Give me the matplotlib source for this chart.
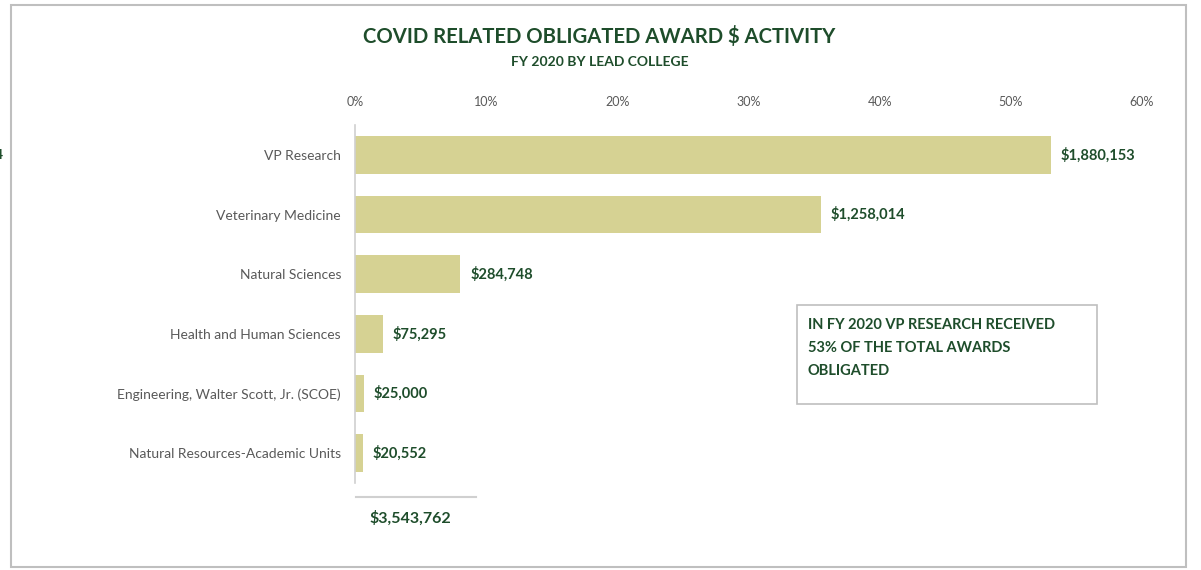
import matplotlib.pyplot as plt
from matplotlib.patches import Rectangle
from matplotlib.lines import Line2D
from matplotlib.ticker import PercentFormatter

colleges = ['VP Research', 'Veterinary Medicine', 'Natural Sciences',
            'Health and Human Sciences', 'Engineering, Walter Scott, Jr. (SCOE)',
            'Natural Resources-Academic Units']
awards = [1880153, 1258014, 284748, 75295, 25000, 20552]
total = sum(awards)
share = [a / total for a in awards]

green = '#1E4D2B'
bar_col = '#D6D293'
gray_txt = '#595959'
line_col = '#D0D0D0'

plt.rcParams['font.family'] = ['Lato', 'DejaVu Sans']

W, H = 1201, 570
fig = plt.figure(figsize=(W / 100, H / 100), dpi=100)

def fx(px):
    return px / W

def fy(py):
    return 1 - py / H

# outer frame
fig.add_artist(Rectangle((fx(11), fy(567)), fx(1186) - fx(11), fy(5) - fy(567),
                         transform=fig.transFigure, fill=False, edgecolor='#BFBFBF', lw=1.5))

ax = fig.add_axes([fx(355), fy(483), fx(1142) - fx(355), fy(125) - fy(483)])
y = list(range(len(colleges)))
ax.barh(y, share, height=0.63, color=bar_col)
ax.set_ylim(len(colleges) - 0.5, -0.5)
ax.set_xlim(0, 0.6)
ax.set_xticks([0, 0.1, 0.2, 0.3, 0.4, 0.5, 0.6])
ax.xaxis.set_major_formatter(PercentFormatter(1.0, decimals=0))
ax.xaxis.tick_top()
ax.tick_params(axis='x', length=0, pad=12, labelsize=9, labelcolor=gray_txt)
ax.set_yticks(y)
ax.set_yticklabels(colleges)
ax.tick_params(axis='y', length=0, pad=10, labelsize=10, labelcolor=gray_txt)
for s in ['top', 'right', 'bottom']:
    ax.spines[s].set_visible(False)
ax.spines['left'].set_color(line_col)
ax.spines['left'].set_linewidth(1.2)

for yi, s, a in zip(y, share, awards):
    ax.annotate('${:,}'.format(a), (s, yi), xytext=(7, 0), textcoords='offset points',
                ha='left', va='center', fontsize=10.5, fontweight='bold', color=green)

fig.text(fx(599), fy(37), 'COVID RELATED OBLIGATED AWARD $ ACTIVITY', ha='center', va='center',
         fontsize=14.6, fontweight='bold', color=green)
fig.text(fx(600), fy(62), 'FY 2020 BY LEAD COLLEGE', ha='center', va='center',
         fontsize=10, fontweight='bold', color=green)

# total under the chart
fig.add_artist(Line2D([fx(356), fx(476)], [fy(497), fy(497)], transform=fig.transFigure,
                      color=line_col, lw=1.5))
fig.text(fx(410), fy(518), '${:,}'.format(total), ha='center', va='center',
         fontsize=11.5, fontweight='bold', color=green)

# callout box
fig.add_artist(Rectangle((fx(797), fy(404)), fx(1097) - fx(797), fy(305) - fy(404),
                         transform=fig.transFigure, fill=False, edgecolor='#BFBFBF', lw=1.2))
fig.text(fx(808), fy(318), 'IN FY 2020 VP RESEARCH RECEIVED\n53% OF THE TOTAL AWARDS\nOBLIGATED',
         ha='left', va='top', fontsize=10.5, fontweight='bold', color=green, linespacing=1.8)

# cut-off label at the far left edge
fig.text(fx(-5), fy(155), '4', ha='left', va='center', fontsize=10, fontweight='bold', color=green)

plt.savefig('out.png', dpi=100)
